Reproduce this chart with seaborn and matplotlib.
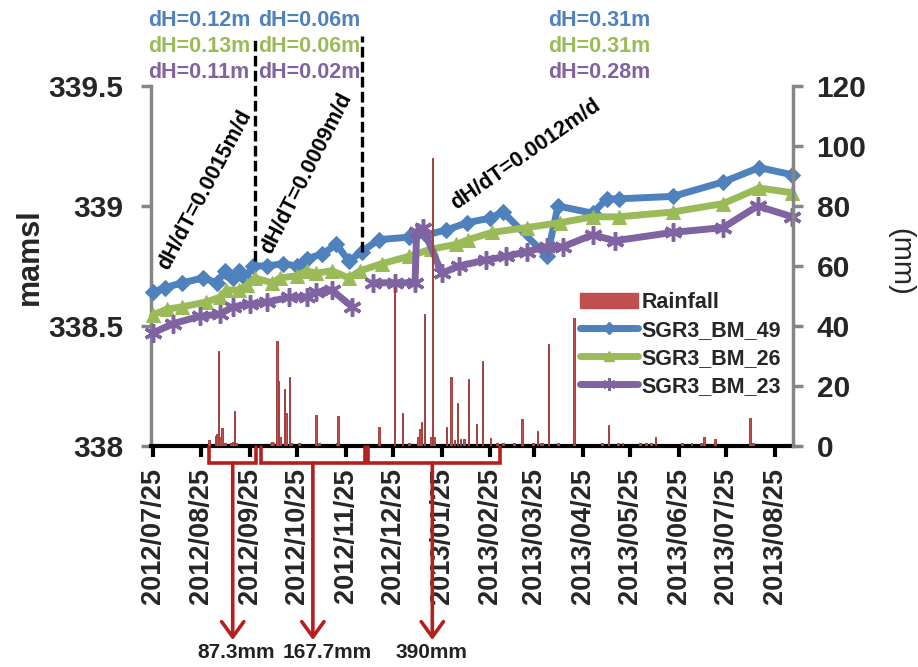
import pandas as pd
import matplotlib
matplotlib.use("Agg")
import matplotlib.pyplot as plt
import matplotlib.dates as mdates
from matplotlib.lines import Line2D
from matplotlib.patches import Patch
from matplotlib.ticker import FuncFormatter, FixedLocator
import seaborn as sns

sns.set_theme(style="white")
plt.rcParams['font.family'] = ['Liberation Sans', 'DejaVu Sans']
plt.rcParams['font.weight'] = 'bold'

# ---- groundwater level, m above mean sea level ----
bm49_dates = ["2012-07-25", "2012-08-02", "2012-08-13", "2012-08-26", "2012-09-04", "2012-09-09",
              "2012-09-14", "2012-09-18", "2012-09-22", "2012-09-27", "2012-10-06", "2012-10-16",
              "2012-10-25", "2012-10-31", "2012-11-10", "2012-11-19", "2012-11-27", "2012-12-05",
              "2012-12-16", "2013-01-04", "2013-01-15", "2013-01-28", "2013-02-10", "2013-02-25",
              "2013-03-05", "2013-04-02", "2013-04-09", "2013-05-01", "2013-05-10", "2013-05-18",
              "2013-06-21", "2013-07-23", "2013-08-15", "2013-09-05"]
bm49_level = [338.64, 338.66, 338.68, 338.70, 338.68, 338.73,
              338.70, 338.73, 338.70, 338.75, 338.75, 338.76,
              338.75, 338.78, 338.80, 338.84, 338.77, 338.81,
              338.86, 338.87, 338.88, 338.90, 338.93, 338.95,
              338.975, 338.79, 339.00, 338.97, 339.03, 339.03,
              339.04, 339.10, 339.16, 339.13]

bm26_dates = ["2012-07-25", "2012-08-03", "2012-08-13", "2012-08-28", "2012-09-06", "2012-09-10",
              "2012-09-18", "2012-09-23", "2012-09-28", "2012-10-09", "2012-10-14", "2012-10-25",
              "2012-10-31", "2012-11-06", "2012-11-16", "2012-11-27", "2012-12-04", "2012-12-18",
              "2013-01-04", "2013-01-18", "2013-02-03", "2013-02-11", "2013-02-26", "2013-03-20",
              "2013-04-10", "2013-05-01", "2013-05-18", "2013-06-21", "2013-07-23", "2013-08-15",
              "2013-09-05"]
bm26_level = [338.545, 338.57, 338.58, 338.60, 338.62, 338.65,
              338.65, 338.67, 338.70, 338.68, 338.70, 338.71,
              338.73, 338.72, 338.73, 338.70, 338.73, 338.76,
              338.79, 338.82, 338.84, 338.86, 338.89, 338.91,
              338.93, 338.955, 338.955, 338.975, 339.01, 339.075,
              339.055]

# BM_23 has a gap in early December 2012
bm23_dates_a = ["2012-07-25", "2012-08-07", "2012-08-24", "2012-09-06", "2012-09-14", "2012-09-25",
                "2012-10-06", "2012-10-20", "2012-10-31", "2012-11-06", "2012-11-16", "2012-11-29"]
bm23_level_a = [338.47, 338.51, 338.54, 338.55, 338.58, 338.59,
                338.60, 338.62, 338.62, 338.64, 338.65, 338.58]
bm23_dates_b = ["2012-12-12", "2012-12-26", "2013-01-08", "2013-01-09", "2013-01-13", "2013-01-25",
                "2013-02-05", "2013-02-22", "2013-03-07", "2013-03-20", "2013-04-02", "2013-04-12",
                "2013-05-01", "2013-05-15", "2013-06-21", "2013-07-23", "2013-08-14", "2013-09-05"]
bm23_level_b = [338.68, 338.68, 338.68, 338.89, 338.91, 338.72,
                338.75, 338.775, 338.79, 338.81, 338.83, 338.83,
                338.88, 338.855, 338.89, 338.91, 339.00, 338.955]

# ---- daily rainfall, mm ----
rain_dates = ["2012-08-30", "2012-09-03", "2012-09-04", "2012-09-05", "2012-09-06", "2012-09-07",
              "2012-09-09", "2012-09-13", "2012-09-14", "2012-09-15", "2012-09-16",
              "2012-10-08", "2012-10-09", "2012-10-10", "2012-10-12", "2012-10-13", "2012-10-14",
              "2012-10-17", "2012-10-18", "2012-10-20", "2012-10-21", "2012-10-26", "2012-11-06",
              "2012-11-08", "2012-11-19", "2012-11-20",
              "2012-12-16", "2012-12-26", "2012-12-31", "2013-01-04", "2013-01-10", "2013-01-11",
              "2013-01-12", "2013-01-14", "2013-01-18", "2013-01-19", "2013-01-20", "2013-01-28",
              "2013-01-31", "2013-02-02", "2013-02-04", "2013-02-06", "2013-02-08", "2013-02-11",
              "2013-02-16", "2013-02-20", "2013-02-25", "2013-03-01",
              "2013-03-05", "2013-03-12", "2013-03-17", "2013-03-24", "2013-03-27", "2013-03-29",
              "2013-03-30", "2013-04-03", "2013-04-09", "2013-04-19", "2013-05-07", "2013-05-11",
              "2013-05-17", "2013-05-20", "2013-05-31", "2013-06-04", "2013-06-07", "2013-06-10",
              "2013-06-27", "2013-07-03", "2013-07-09", "2013-07-11", "2013-07-18", "2013-08-09",
              "2013-08-11"]
rain_mm = [2.0, 3.5, 4.0, 31.8, 3.0, 6.0,
           1.0, 1.0, 1.5, 11.6, 1.0,
           1.0, 1.5, 1.0, 35.0, 21.7, 3.0,
           19.0, 11.0, 23.0, 1.0, 1.0, 10.3,
           1.0, 1.0, 10.0,
           6.3, 53.0, 11.0, 1.0, 3.0, 5.6,
           8.0, 44.0, 3.0, 96.0, 3.0, 6.3,
           22.9, 2.0, 14.2, 2.3, 2.3, 22.3,
           7.5, 28.3, 2.7, 1.0,
           1.0, 1.0, 8.9, 1.0, 5.0, 1.0,
           1.0, 34.0, 1.0, 42.7, 1.0, 7.0,
           1.0, 1.0, 1.0, 1.0, 1.0, 3.0,
           1.0, 1.0, 1.0, 3.0, 2.3, 9.5,
           1.0]

# ---- rainfall accumulation periods ----
period_start = ["2012-08-30", "2012-10-02", "2012-12-09"]
period_end = ["2012-09-29", "2012-12-07", "2013-03-03"]
period_mid = ["2012-09-14", "2012-11-04", "2013-01-19"]
period_total = ["87.3mm", "167.7mm", "390mm"]

# ---- level change between marked dates ----
break_dates = ["2012-09-28", "2012-12-05"]
break_levels = [338.77, 338.81]
dh_49 = ["dH=0.12m", "dH=0.06m", "dH=0.31m"]
dh_26 = ["dH=0.13m", "dH=0.06m", "dH=0.31m"]
dh_23 = ["dH=0.11m", "dH=0.02m", "dH=0.28m"]
rates = ["dH/dT=0.0015m/d", "dH/dT=0.0009m/d", "dH/dT=0.0012m/d"]

C49, C26, C23, CRAIN = "#4F81BD", "#9BBB59", "#8064A2", "#C0504D"
ARROW = "#B3201E"
GREY = "#868686"

W, H = 918, 667
fig = plt.figure(figsize=(W / 100, H / 100), dpi=100)
ax = fig.add_axes([151 / W, 1 - 446 / H, 642 / W, 360 / H])

lw = 5
star = (6, 2, 0)
df49 = pd.DataFrame({"date": pd.to_datetime(bm49_dates), "level": bm49_level})
df26 = pd.DataFrame({"date": pd.to_datetime(bm26_dates), "level": bm26_level})
df23a = pd.DataFrame({"date": pd.to_datetime(bm23_dates_a), "level": bm23_level_a})
df23b = pd.DataFrame({"date": pd.to_datetime(bm23_dates_b), "level": bm23_level_b})

sns.lineplot(data=df49, x="date", y="level", ax=ax, color=C49, lw=lw, marker="D",
             markersize=8, markeredgecolor=C49, clip_on=False, zorder=3)
sns.lineplot(data=df26, x="date", y="level", ax=ax, color=C26, lw=lw, marker="^",
             markersize=10, markeredgecolor=C26, clip_on=False, zorder=4)
for d in (df23a, df23b):
    sns.lineplot(data=d, x="date", y="level", ax=ax, color=C23, lw=lw, marker=star,
                 markersize=13, markeredgewidth=2.5, markeredgecolor=C23,
                 clip_on=False, zorder=5)

x0 = pd.Timestamp("2012-07-24")
x1 = pd.Timestamp("2013-09-05 12:00")
ax.set_xlim(x0, x1)
ax.set_ylim(338, 339.5)
ax.yaxis.set_major_locator(FixedLocator([338, 338.5, 339, 339.5]))
ax.yaxis.set_major_formatter(FuncFormatter(lambda v, p: f"{v:g}"))
ax.xaxis.set_major_locator(mdates.MonthLocator(bymonthday=25))
ax.xaxis.set_major_formatter(mdates.DateFormatter("%Y/%m/%d"))
ax.set_xlabel("")
ax.set_ylabel("")

ax2 = ax.twinx()
ax2.bar(pd.to_datetime(rain_dates), rain_mm, width=1.0, color=CRAIN,
        edgecolor="#A0413F", linewidth=0.7, zorder=2)
ax2.set_ylim(0, 120)
ax2.yaxis.set_major_locator(FixedLocator([0, 20, 40, 60, 80, 100, 120]))
ax2.set_ylabel("")
ax2.set_xlim(x0, x1)

# axis titles
fig.text(30 / W, 1 - 257 / H, "mamsl", fontsize=22, fontweight="bold",
         rotation=90, ha="center", va="center")
fig.text(900 / W, 1 - 262 / H, "(mm)", fontsize=21, fontweight="normal",
         rotation=270, ha="center", va="center")

for a in (ax, ax2):
    a.grid(False)
    a.spines["top"].set_visible(False)
ax.spines["right"].set_visible(False)
ax2.spines["left"].set_visible(False)
ax2.spines["bottom"].set_visible(False)
ax.spines["left"].set_color(GREY)
ax.spines["left"].set_linewidth(2.5)
ax2.spines["right"].set_color(GREY)
ax2.spines["right"].set_linewidth(2.5)
ax.spines["bottom"].set_color("black")
ax.spines["bottom"].set_linewidth(3)
ax.spines["bottom"].set_zorder(6)

ax.tick_params(axis="y", which="major", direction="out", length=7, width=2.5,
               color=GREY, labelsize=21.5, pad=13, left=True)
ax2.tick_params(axis="y", which="major", direction="out", length=7, width=2.5,
                color=GREY, labelsize=21.5, pad=10, right=True)
ax.tick_params(axis="x", which="major", direction="out", length=8, width=3,
               color="black", labelsize=19.5, pad=8, bottom=True, labelrotation=90)
for lab in ax.get_xticklabels() + ax.get_yticklabels() + ax2.get_yticklabels():
    lab.set_fontweight("bold")

# dashed markers for the three periods
for d, lv in zip(break_dates, break_levels):
    ax.plot([pd.Timestamp(d)] * 2, [lv, 339.71], color="black", lw=2.4,
            ls=(0, (3.2, 1.3)), clip_on=False, zorder=7)

# level change labels
cols_x = [148, 258, 548]
for cx, a49, a26, a23 in zip(cols_x, dh_49, dh_26, dh_23):
    for txt, c, yy in ((a49, C49, 20), (a26, C26, 46), (a23, C23, 72)):
        fig.text(cx / W, 1 - yy / H, txt, color=c, fontsize=15.5, fontweight="bold",
                 ha="left", va="center")

for txt, (px, py), rot in zip(rates, [(205, 190), (307, 173), (526, 155)], [62, 63, 35]):
    fig.text(px / W, 1 - py / H, txt, fontsize=15.5, fontweight="bold", color="black",
             rotation=rot, rotation_mode="anchor", ha="center", va="center")

# rainfall period brackets with arrows
tr = ax.get_xaxis_transform()
ytop, ybar, ytip = (446 - 447) / 360, (446 - 463) / 360, (446 - 640) / 360
label_x = [236, 327, 431]
for s, e, m, tot, lx in zip(period_start, period_end, period_mid, period_total, label_x):
    s, e, m = (mdates.date2num(pd.Timestamp(v)) for v in (s, e, m))
    ax.plot([s, s, e, e], [ytop, ybar, ybar, ytop], color=ARROW, lw=2.6,
            transform=tr, clip_on=False, zorder=8, solid_joinstyle="miter")
    ax.annotate("", xy=(m, ytip), xycoords=tr, xytext=(m, ybar), textcoords=tr,
                arrowprops=dict(arrowstyle="->,head_length=0.55,head_width=0.4",
                                color=ARROW, lw=2.6, mutation_scale=20,
                                shrinkA=0, shrinkB=0),
                zorder=8, annotation_clip=False)
    fig.text(lx / W, 1 - 653 / H, tot, fontsize=15, fontweight="bold",
             color="#222222", ha="center", va="center")

handles = [Patch(facecolor=CRAIN, edgecolor=CRAIN),
           Line2D([], [], color=C49, lw=lw, marker="D", markersize=6),
           Line2D([], [], color=C26, lw=lw, marker="^", markersize=7),
           Line2D([], [], color=C23, lw=lw, marker=star, markersize=9, markeredgewidth=2)]
labels = ["Rainfall", "SGR3_BM_49", "SGR3_BM_26", "SGR3_BM_23"]
leg = ax2.legend(handles, labels, loc="upper left", bbox_to_anchor=(0.668, 0.428),
                 frameon=False, handlelength=2.7, handletextpad=0.15,
                 labelspacing=0.32, borderpad=0, borderaxespad=0,
                 prop={"weight": "bold", "size": 15.5})
leg.set_zorder(10)

fig.savefig("out.png", dpi=100)
